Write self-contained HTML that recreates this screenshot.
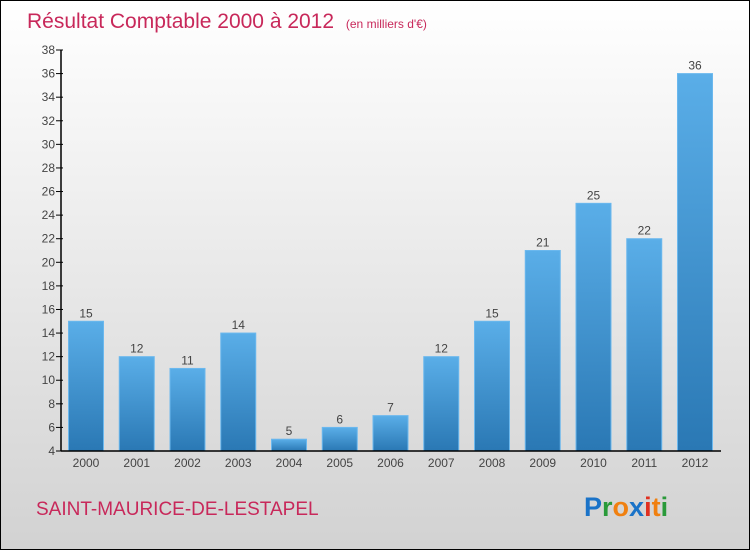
<!DOCTYPE html>
<html><head><meta charset="utf-8"><style>
body{margin:0}
#c{position:relative;width:748px;height:548px;border:1px solid #000;background:linear-gradient(#fff,#d2d2d2);font-family:"Liberation Sans",sans-serif;overflow:hidden}
</style></head><body>
<div id="c">
<svg width="748" height="548">
<defs><linearGradient id="g" x1="0" y1="0" x2="0" y2="1"><stop offset="0" stop-color="#5aaee8"/><stop offset="1" stop-color="#2a78b4"/></linearGradient></defs>
<text x="26" y="27" font-size="21" fill="#c8285a">Résultat Comptable 2000 à 2012 <tspan font-size="12" dx="6">(en milliers d'€)</tspan></text>
<g id="plot"></g>
<text x="35" y="514" font-size="19" fill="#c8285a">SAINT-MAURICE-DE-LESTAPEL</text>
<text x="583" y="515" font-size="27" font-weight="bold"><tspan fill="#1a73c8">P</tspan><tspan fill="#2a9a3a">r</tspan><tspan fill="#f08010">o</tspan><tspan fill="#1a73c8">x</tspan><tspan fill="#e03020">i</tspan><tspan fill="#f08010">t</tspan><tspan fill="#2a9a3a">i</tspan></text>
</svg></div>
<script>
const years=["2000","2001","2002","2003","2004","2005","2006","2007","2008","2009","2010","2011","2012"];
const values=[15,12,11,14,5,6,7,12,15,21,25,22,36];
const yTicks=[4,6,8,10,12,14,16,18,20,22,24,26,28,30,32,34,36,38];
const ns="http://www.w3.org/2000/svg",p=document.getElementById('plot');
const y=v=>450-(v-4)*(401/34);
const x=i=>85+i*50.75;
function mk(t,a,txt){const e=document.createElementNS(ns,t);for(const k in a)e.setAttribute(k,a[k]);if(txt!=null)e.textContent=txt;p.appendChild(e);return e;}
yTicks.forEach(v=>{
 const t=mk('line',{x1:55,x2:62,y1:y(v),y2:y(v),stroke:'#000'});
 
 
 const l=mk('text',{x:54,y:y(v)+4,'font-size':12,fill:'#444','text-anchor':'end'},v);
 
 
});
values.forEach((v,i)=>{
 const b=mk('rect',{x:x(i)-17.5,y:y(v),width:35,height:450-y(v),fill:'url(#g)',stroke:'#6bb8ee','stroke-width':1});
 
 
 const l=mk('text',{x:x(i),y:y(v)-4,'font-size':12,fill:'#444','text-anchor':'middle'},v);
 
 
 const xl=mk('text',{x:x(i),y:466,'font-size':12,fill:'#444','text-anchor':'middle'},years[i]);
 
 
});
const ya=mk('line',{x1:60,x2:60,y1:y(38),y2:450,stroke:'#000','stroke-width':1.5});


const xa=mk('line',{x1:60,x2:720,y1:450,y2:450,stroke:'#000','stroke-width':1.5});


</script>
</body></html>
